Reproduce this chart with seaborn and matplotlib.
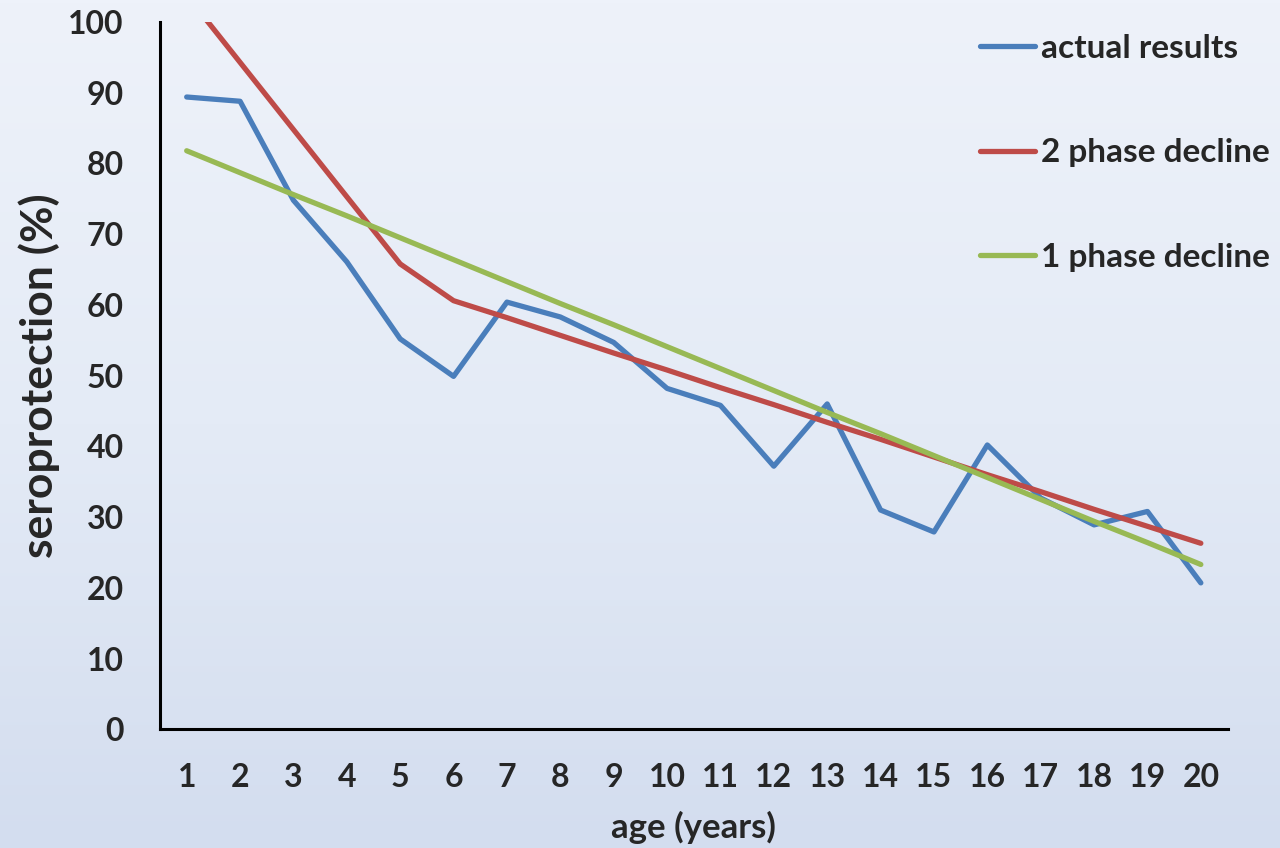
import numpy as np
import pandas as pd
import matplotlib
matplotlib.use('Agg')
import matplotlib.pyplot as plt
import seaborn as sns

age = list(range(1, 21))
actual = [89.4, 88.8, 74.8, 66.1, 55.2, 49.9, 60.4, 58.3, 54.7, 48.2,
          45.8, 37.2, 46.0, 31.0, 27.9, 40.2, 32.7, 28.9, 30.8, 20.7]
two_phase = [103.8, 94.3, 84.8, 75.3, 65.8, 60.6, 58.2, 55.7, 53.2, 50.8,
             48.3, 45.9, 43.4, 41.0, 38.5, 36.0, 33.6, 31.1, 28.7, 26.3]
one_phase = [81.8, 78.7, 75.6, 72.6, 69.5, 66.4, 63.3, 60.2, 57.2, 54.1,
             51.0, 47.9, 44.8, 41.8, 38.7, 35.6, 32.5, 29.4, 26.4, 23.3]
labels = ['actual results', '2 phase decline', '1 phase decline']
colors = ['#4a7ebb', '#be4b48', '#98b954']

df = pd.DataFrame({'age': age * 3,
                   'value': actual + two_phase + one_phase,
                   'series': [labels[0]] * 20 + [labels[1]] * 20 + [labels[2]] * 20})

sns.set_style('white')
plt.rcParams['font.family'] = ['Lato', 'DejaVu Sans']
plt.rcParams['font.weight'] = 'bold'

fig = plt.figure(figsize=(12.8, 8.48), dpi=100)

# background gradient
bg = fig.add_axes([0, 0, 1, 1], zorder=-10)
grad = np.linspace(0, 1, 256).reshape(-1, 1)
cmap = matplotlib.colors.LinearSegmentedColormap.from_list('bg', ['#eef2fa', '#e4ebf6', '#d3ddef'])
bg.imshow(grad, aspect='auto', cmap=cmap, extent=[0, 1, 0, 1])
bg.axis('off')

ax = fig.add_axes([0.125, 0.140, 0.834, 0.834])
ax.patch.set_alpha(0)
sns.lineplot(data=df, x='age', y='value', hue='series', palette=colors,
             linewidth=3.8, ax=ax, legend=True)

ax.set_xlim(0.5, 20.5)
ax.set_ylim(0, 100)
ax.set_xticks(age)
ax.set_yticks(range(0, 101, 10))
ax.tick_params(axis='both', length=0, labelsize=23)
ax.tick_params(axis='x', pad=24)
ax.tick_params(axis='y', pad=26)
for t in ax.get_xticklabels() + ax.get_yticklabels():
    t.set_fontweight('bold')

for s in ['top', 'right']:
    ax.spines[s].set_visible(False)
for s in ['left', 'bottom']:
    ax.spines[s].set_color('black')
    ax.spines[s].set_linewidth(2.2)

ax.set_xlabel('age (years)', fontsize=25, fontweight='bold', labelpad=14)
ax.set_ylabel('seroprotection (%)', fontsize=32, fontweight='bold', labelpad=6)

leg = ax.legend(loc='upper right', bbox_to_anchor=(1.068, 1.026), frameon=False,
                fontsize=24, labelspacing=2.27, handlelength=1.65, handletextpad=0.18)
for t in leg.get_texts():
    t.set_fontweight('bold')
for h in leg.get_lines():
    h.set_linewidth(3.8)

fig.savefig('out.png', dpi=100)
